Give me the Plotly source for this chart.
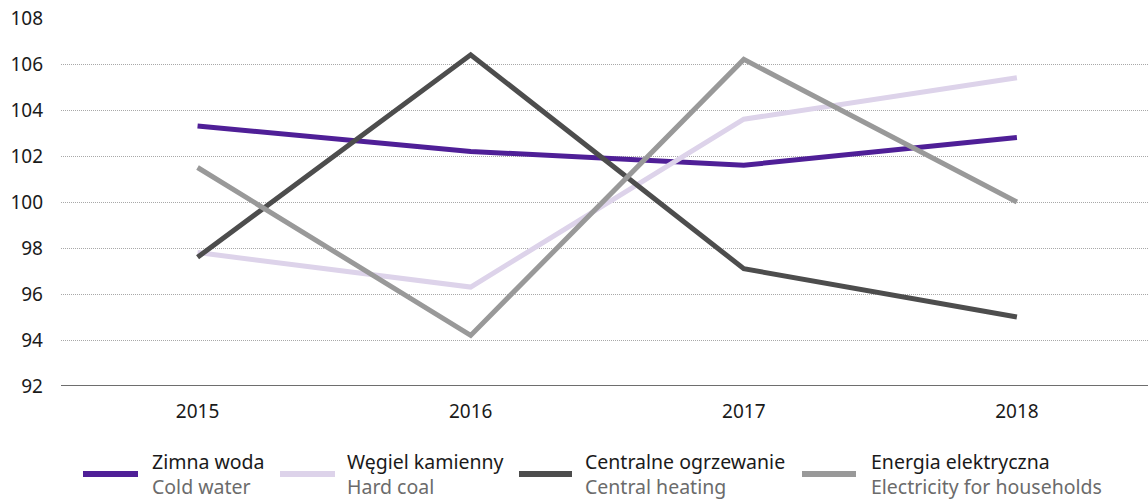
import plotly.graph_objects as go

years = ["2015", "2016", "2017", "2018"]
zimna_woda = [103.3, 102.2, 101.6, 102.8]
wegiel = [97.8, 96.3, 103.6, 105.4]
centralne = [97.6, 106.4, 97.1, 95.0]
energia = [101.5, 94.2, 106.2, 100.0]

names_pl = ["Zimna woda", "Węgiel kamienny", "Centralne ogrzewanie", "Energia elektryczna"]
names_en = ["Cold water", "Hard coal", "Central heating", "Electricity for households"]
series = [zimna_woda, wegiel, centralne, energia]
colors = ["#4f1f97", "#ddd3ea", "#4d4d4d", "#999999"]

W, H = 1148, 500
ML, MR, MT, MB = 61, 0, 18, 114
FONT = "Noto Sans"

fig = go.Figure()
for vals, name, col in zip(series, names_pl, colors):
    fig.add_trace(go.Scatter(x=years, y=vals, mode="lines", name=name,
                             line=dict(color=col, width=5), showlegend=False))

pw = W - ML - MR
ph = H - MT - MB
def px2x(p):
    return (p - ML) / pw
def py2y(p):
    return (H - MB - p) / ph

# custom legend
leg_lines = [(83, 138), (280, 335), (519, 572), (802, 856)]
leg_text_x = [152, 347, 585, 871]
shapes = []
annotations = []
for (x0, x1), tx, col, pl, en in zip(leg_lines, leg_text_x, colors, names_pl, names_en):
    shapes.append(dict(type="line", xref="paper", yref="paper",
                       x0=px2x(x0), x1=px2x(x1), y0=py2y(474), y1=py2y(474),
                       line=dict(color=col, width=6)))
    annotations.append(dict(xref="paper", yref="paper", x=px2x(tx - 2), y=py2y(461),
                            xanchor="left", yanchor="middle", align="left", showarrow=False,
                            text=pl, font=dict(family=FONT, size=19.5, color="#1a1a1a")))
    annotations.append(dict(xref="paper", yref="paper", x=px2x(tx - 2), y=py2y(486),
                            xanchor="left", yanchor="middle", align="left", showarrow=False,
                            text=en, font=dict(family=FONT, size=19.5, color="#6b6b6b")))

fig.update_layout(
    width=W, height=H,
    margin=dict(l=ML, r=MR, t=MT, b=MB),
    plot_bgcolor="white", paper_bgcolor="white",
    font=dict(family=FONT, size=19, color="#1a1a1a"),
    shapes=shapes, annotations=annotations,
    xaxis=dict(type="category", range=[-0.5, 3.48], showgrid=False,
               showline=False, ticks="", tickfont=dict(size=19), ticklabelstandoff=12),
    yaxis=dict(range=[92, 108], dtick=2, tick0=92, showgrid=True,
               gridcolor="#a8a8a8", griddash="1px,1px", gridwidth=1,
               zeroline=False, showline=False, ticks="", ticklabelstandoff=17,
               tickfont=dict(size=19)),
)
# baseline axis at 92
fig.add_shape(type="line", xref="paper", yref="y", x0=0, x1=1, y0=92, y1=92,
              line=dict(color="#6e6e6e", width=2), layer="above")

fig.write_html("out.html", config={"displayModeBar": False},
               post_script="document.body.style.margin='0';document.body.style.overflow='hidden';")
